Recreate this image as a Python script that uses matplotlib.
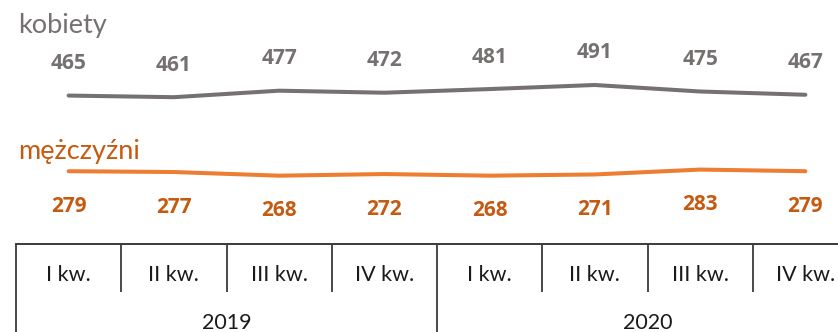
import matplotlib
matplotlib.use("Agg")
import matplotlib.pyplot as plt

quarters = ["I kw.", "II kw.", "III kw.", "IV kw.", "I kw.", "II kw.", "III kw.", "IV kw."]
years = ["2019", "2020"]
kobiety = [465, 461, 477, 472, 481, 491, 475, 467]
mezczyzni = [279, 277, 268, 272, 268, 271, 283, 279]

GRAY = "#767171"
ORANGE = "#ED7D31"
ORANGE_TXT = "#C55A11"
GRID = "#3a3a3a"

plt.rcParams["font.family"] = ["Lato", "DejaVu Sans"]
LABEL_FONT = ["Open Sans", "DejaVu Sans"]

W, H = 838, 332
fig = plt.figure(figsize=(W / 100, H / 100), dpi=100)
# axes run past the right edge of the figure, like the cropped original
ax = fig.add_axes([16 / W, 88 / H, 842 / W, 244 / H])
ax.set_xlim(-0.5, 7.5)
ax.set_ylim(100, 700)

x = list(range(len(quarters)))
ax.plot(x, kobiety, color=GRAY, lw=2.9, solid_capstyle="round", solid_joinstyle="round")
ax.plot(x, mezczyzni, color=ORANGE, lw=2.9, solid_capstyle="round", solid_joinstyle="round")

for i, v in enumerate(kobiety):
    ax.annotate(str(v), (i, v), xytext=(0, 32), textcoords="offset pixels",
                ha="center", va="center", fontsize=15, fontweight="bold",
                family=LABEL_FONT, color=GRAY)
for i, v in enumerate(mezczyzni):
    ax.annotate(str(v), (i, v), xytext=(0, -35), textcoords="offset pixels",
                ha="center", va="center", fontsize=15, fontweight="bold",
                family=LABEL_FONT, color=ORANGE_TXT)

fig.text(18 / W, 1 - 25 / H, "kobiety", fontsize=19.5, color=GRAY, ha="left", va="center")
fig.text(18 / W, 1 - 152 / H, "mężczyźni", fontsize=19.5, color=ORANGE_TXT, ha="left", va="center")

# category table under the plot
for side in ["left", "right", "top"]:
    ax.spines[side].set_visible(False)
ax.spines["bottom"].set_color(GRID)
ax.spines["bottom"].set_linewidth(1.4)
ax.set_yticks([])

ax.set_xticks(x, quarters)
ax.set_xticks([0.5, 1.5, 2.5, 4.5, 5.5, 6.5], minor=True)
ax.tick_params(axis="x", which="major", length=0, pad=15, labelsize=15.5, labelcolor="#1a1a1a")
ax.tick_params(axis="x", which="minor", length=34.5, width=1.3, color=GRID, direction="out")

xt = ax.get_xaxis_transform()
ax.vlines([-0.5, 3.5, 7.5], 0, -88 / 244, transform=xt, colors=GRID, lw=1.3, clip_on=False)
for k, yr in enumerate(years):
    ax.text(1.5 + 4 * k, -(323 - 244) / 244, yr, transform=xt, ha="center", va="center",
            fontsize=15.5, color="#1a1a1a")

fig.savefig("out.png", dpi=100)
